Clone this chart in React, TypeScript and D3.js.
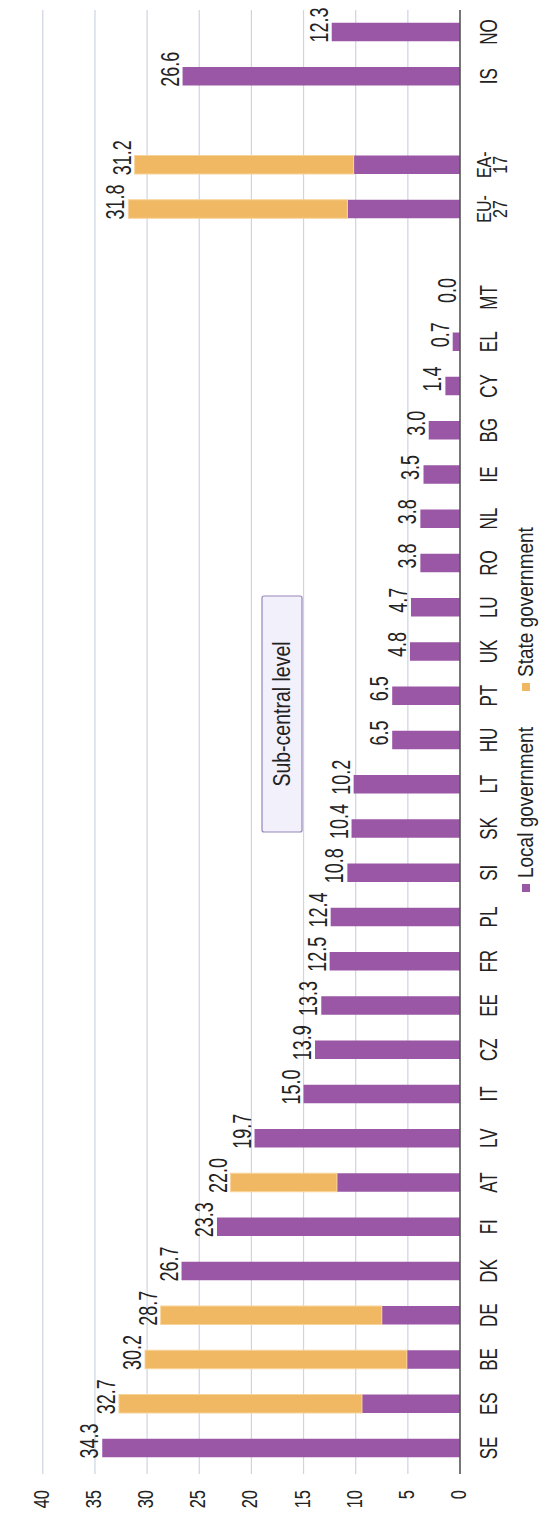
import React from "react";
import * as d3 from "d3";

const categories = ["SE","ES","BE","DE","DK","FI","AT","LV","IT","CZ","EE","FR","PL","SI","SK","LT","HU","PT","UK","LU","RO","NL","IE","BG","CY","EL","MT","","EU-27","EA-17","","IS","NO"];
const localGov = [34.3,9.4,5.1,7.5,26.7,23.3,11.8,19.7,15.0,13.9,13.3,12.5,12.4,10.8,10.4,10.2,6.5,6.5,4.8,4.7,3.8,3.8,3.5,3.0,1.4,0.7,0.0,null,10.8,10.2,null,26.6,12.3];
const stateGov = [0,23.3,25.1,21.2,0,0,10.2,0,0,0,0,0,0,0,0,0,0,0,0,0,0,0,0,0,0,0,0,null,21.0,21.0,null,0,0];
const ticks = [0,5,10,15,20,25,30,35,40];
const seriesNames = ["Local government","State government"];
const titleText = "Sub-central level";

const PURPLE = "#9a57a6";
const ORANGE = "#f0b862";
const FONT = "'Liberation Sans', Arial, sans-serif";

function RText({x, y, size, k, anchor = "middle", children, fill = "#222"}: any) {
  return (
    <text transform={`translate(${x},${y}) rotate(-90) scale(1,${k})`} textAnchor={anchor}
      fontFamily={FONT} fontSize={size} fill={fill}>{children}</text>
  );
}

export default function App() {
  const W = 546, H = 1513;
  const x = d3.scaleLinear().domain([0, 40]).range([460, 42.8]);
  const slots = categories.map((_, i) => String(i));
  const y = d3.scalePoint().domain(slots).range([1448, 32]);
  const barH = 18.5;
  const top = 10, bottom = 1474;

  return (
    <svg width={W} height={H} style={{position: "absolute", left: 0, top: 0, display: "block", background: "#fff"}}>
      {ticks.filter(t => t > 0).map(t => (
        <line key={"g" + t} x1={x(t)} x2={x(t)} y1={top} y2={bottom} stroke="#cdd4e3" strokeWidth={1.2} />
      ))}
      {categories.map((c, i) => {
        const l = localGov[i];
        if (l === null || c === "") return null;
        const s = stateGov[i] || 0;
        const cy = y(String(i))!;
        const total = l + s;
        return (
          <g key={"b" + i}>
            <rect x={x(l)} y={cy - barH / 2} width={x(0) - x(l)} height={barH} fill={PURPLE} />
            {s > 0 && (
              <rect x={x(total)} y={cy - barH / 2} width={x(l) - x(total)} height={barH} fill={ORANGE} stroke="#f7d49a" strokeWidth={1} />
            )}
            <RText x={x(total) - 4} y={cy - 7} size={18} k={1.4}>{total.toFixed(1)}</RText>
          </g>
        );
      })}
      <line x1={x(0)} x2={x(0)} y1={top} y2={bottom} stroke="#555" strokeWidth={1.6} />
      {ticks.map(t => (
        <RText key={"t" + t} x={x(t) + 6} y={1490} size={16.5} k={1.3} anchor="end">{t}</RText>
      ))}
      {categories.map((c, i) => {
        if (c === "") return null;
        const cy = y(String(i))!;
        if (c.includes("-")) {
          const [a, b] = c.split("-");
          return (
            <g key={"c" + i}>
              <RText x={491} y={cy} size={16} k={1.25}>{a + "-"}</RText>
              <RText x={507} y={cy} size={16} k={1.25}>{b}</RText>
            </g>
          );
        }
        return <RText key={"c" + i} x={497} y={cy} size={17} k={1.45}>{c}</RText>;
      })}
      <rect x={262} y={596} width={40} height={236} fill="#f2f0fa" stroke="#9585bb" strokeWidth={1.2} rx={2} />
      <RText x={290} y={714} size={19.5} k={1.25}>{titleText}</RText>
      <rect x={522} y={884} width={8} height={8} fill={PURPLE} />
      <RText x={533} y={878} size={19} k={1.2} anchor="start">{seriesNames[0]}</RText>
      <rect x={522} y={683} width={8} height={8} fill={ORANGE} />
      <RText x={533} y={677} size={19} k={1.2} anchor="start">{seriesNames[1]}</RText>
    </svg>
  );
}
